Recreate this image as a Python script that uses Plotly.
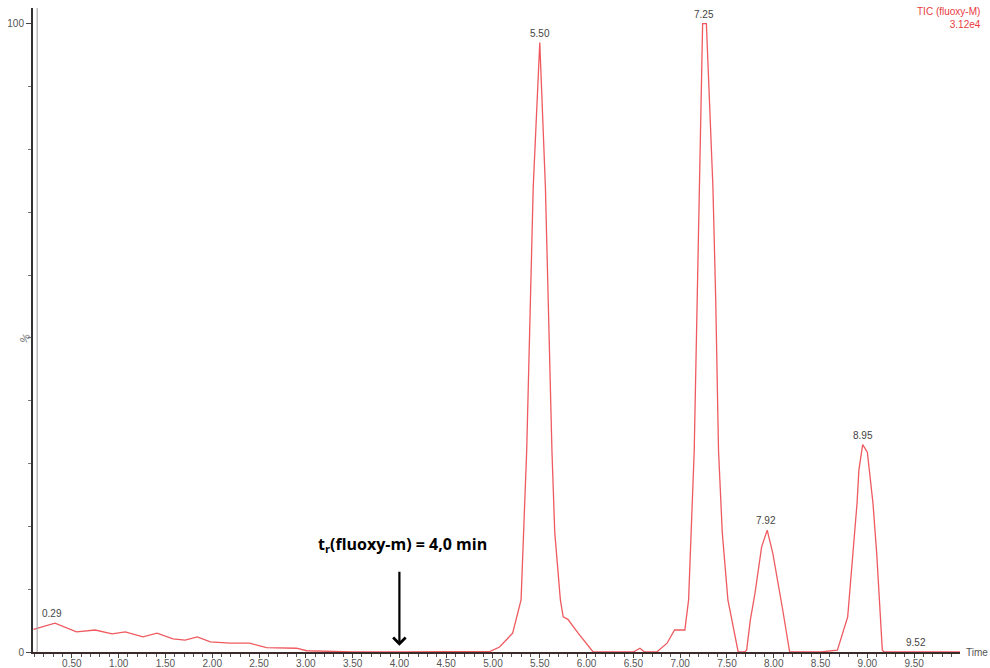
import plotly.graph_objects as go

# Retention time (min) and relative abundance (%)
time_min = [0.09, 0.14, 0.32, 0.55, 0.75, 0.93, 1.07, 1.26, 1.41, 1.58, 1.71, 1.84,
            1.98, 2.19, 2.40, 2.58, 2.80, 2.90, 3.01, 3.50, 4.00, 4.50, 4.97,
            5.07, 5.21, 5.30, 5.36, 5.40, 5.43, 5.50, 5.56, 5.59, 5.63, 5.66, 5.72,
            5.75, 5.80, 5.91, 6.04, 6.07, 6.50, 6.57, 6.62, 6.75,
            6.86, 6.94, 7.05, 7.09, 7.15, 7.18, 7.21, 7.24, 7.28, 7.35, 7.38, 7.41,
            7.45, 7.51, 7.62, 7.69, 7.71, 7.75, 7.80, 7.87, 7.93, 7.99, 8.09, 8.17,
            8.50, 8.68, 8.79, 8.85, 8.89, 8.91, 8.95, 9.00, 9.06, 9.10, 9.13, 9.16,
            9.18, 9.52, 9.99]
abundance = [3.6, 3.8, 4.6, 3.2, 3.5, 2.9, 3.2, 2.4, 3.0, 2.1, 1.9, 2.4,
             1.6, 1.4, 1.4, 0.7, 0.7, 0.6, 0.2, 0.0, 0.0, 0.0, 0.1,
             0.8, 3.0, 8.3, 32.0, 56.0, 74.0, 97.0, 74.0, 56.0, 32.0, 19.0, 8.3,
             5.6, 5.2, 3.0, 0.6, 0.0, 0.0, 0.6, 0.0, 0.0,
             1.4, 3.5, 3.5, 8.3, 32.0, 56.0, 74.0, 100.0, 100.0, 74.0, 56.0, 32.0,
             19.0, 8.3, 0.0, 0.0, 0.3, 5.1, 9.4, 16.7, 19.4, 15.7, 7.2, 0.0,
             0.0, 0.3, 5.6, 15.7, 23.7, 29.0, 33.0, 31.8, 23.7, 15.7, 7.8, 0.3,
             0.0, 0.0, 0.0]

# Peak labels
peak_times = [0.29, 5.50, 7.25, 7.92, 8.95, 9.52]
peak_labels = ["0.29", "5.50", "7.25", "7.92", "8.95", "9.52"]
peak_heights = [4.6, 97.0, 100.0, 19.4, 33.0, 0.0]

x_tick_vals = [0.5, 1.0, 1.5, 2.0, 2.5, 3.0, 3.5, 4.0, 4.5, 5.0, 5.5, 6.0, 6.5,
               7.0, 7.5, 8.0, 8.5, 9.0, 9.5]
x_tick_text = ["0.50", "1.00", "1.50", "2.00", "2.50", "3.00", "3.50", "4.00", "4.50",
               "5.00", "5.50", "6.00", "6.50", "7.00", "7.50", "8.00", "8.50", "9.00", "9.50"]
y_tick_vals = [0, 100]
y_tick_text = ["0", "100"]

marked_time = 4.0

fig = go.Figure()
fig.add_trace(go.Scatter(
    x=time_min, y=abundance, mode="lines",
    line=dict(color="#ee5a5f", width=1.3), hoverinfo="x+y", showlegend=False,
))

for t, lab, h in zip(peak_times, peak_labels, peak_heights):
    fig.add_annotation(x=t, y=h, text=lab, showarrow=False, yanchor="bottom", yshift=2,
                       font=dict(family="Liberation Sans, Arial", size=10, color="#444444"))

# Retention-time marker
fig.add_annotation(x=marked_time, y=1.0, ax=marked_time, ay=13.0, axref="x", ayref="y",
                   xref="x", yref="y", text="", showarrow=True, arrowhead=4,
                   arrowsize=1.1, arrowwidth=2.2, arrowcolor="black")
fig.add_annotation(x=marked_time, y=15.0, text="t<sub>r</sub>(fluoxy-m) = 4,0 min",
                   showarrow=False, yanchor="bottom", xshift=3,
                   font=dict(family="Open Sans, Liberation Sans", size=16, color="black",
                             weight="bold"))

# Trace header
fig.add_annotation(xref="paper", yref="paper", x=1.025, y=1.006, text="TIC (fluoxy-M)<br>3.12e4",
                   showarrow=False, xanchor="right", yanchor="top", align="right",
                   font=dict(family="Liberation Sans, Arial", size=10, color="#e83a40"))
# axis captions
fig.add_annotation(xref="paper", yref="paper", x=1.004, y=0.0, text="Time", showarrow=False,
                   xanchor="left", yanchor="middle",
                   font=dict(family="Liberation Sans, Arial", size=10, color="#555555"))
fig.add_annotation(xref="paper", yref="paper", x=-0.0086, y=0.487, text="%", showarrow=False,
                   textangle=-60, xanchor="center", yanchor="middle",
                   font=dict(family="Liberation Sans, Arial", size=11, color="#777777"))

# secondary grey line next to y axis
fig.add_shape(type="line", xref="paper", yref="paper", x0=0.0045, x1=0.0045, y0=0, y1=1,
              line=dict(color="#aaaaaa", width=1.2))

fig.update_layout(
    width=990, height=668,
    margin=dict(l=33, r=30, t=8, b=16, autoexpand=False),
    plot_bgcolor="white", paper_bgcolor="white",
    xaxis=dict(range=[0.085, 9.99], tickvals=x_tick_vals, ticktext=x_tick_text,
               automargin=False, ticklabelstandoff=-3,
               showgrid=False, zeroline=False, showline=True, linecolor="#3a2a2a",
               linewidth=2, ticks="outside", ticklen=4, tickcolor="#444444", tickwidth=1,
               minor=dict(dtick=0.1, tick0=0, ticks="outside", ticklen=3,
                          tickcolor="#555555", showgrid=False),
               tickfont=dict(family="Liberation Sans, Arial", size=10, color="#555555")),
    yaxis=dict(range=[0, 102.5], tickvals=y_tick_vals, ticktext=y_tick_text,
               automargin=False,
               showgrid=False, zeroline=False, showline=True, linecolor="#333333",
               linewidth=2, ticks="outside", ticklen=5, tickcolor="#444444",
               minor=dict(dtick=10, tick0=0, ticks="outside", ticklen=3,
                          tickcolor="#777777", showgrid=False),
               tickfont=dict(family="Liberation Sans, Arial", size=10, color="#555555")),
)

fig.write_html("out.html", config={"displayModeBar": False},
               post_script="document.body.style.margin='0px';")
